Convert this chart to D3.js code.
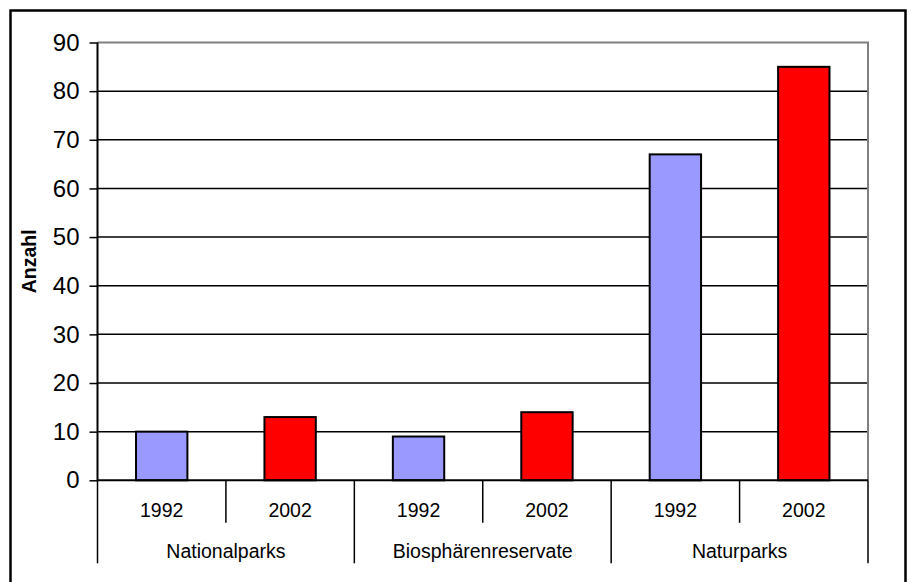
<!DOCTYPE html>
<html>
<head>
<meta charset="utf-8">
<script src="https://cdn.jsdelivr.net/npm/d3@7"></script>
<style>
  body { margin: 0; background: #fff; }
  text { font-family: "Liberation Sans", Arial, sans-serif; fill: #000; }
</style>
</head>
<body>
<svg id="chart"></svg>
<script>
const groups = ["Nationalparks", "Biosphärenreservate", "Naturparks"];
const years = ["1992", "2002"];
const values1992 = [10, 9, 67];
const values2002 = [13, 14, 85];
const yTicks = [0, 10, 20, 30, 40, 50, 60, 70, 80, 90];
const colors = { "1992": "#9999ff", "2002": "#ff0000" };

const width = 911, height = 582;
const margin = { top: 42.5, right: 43, bottom: 101.7, left: 97.5 };

const svg = d3.select("#chart").attr("width", width).attr("height", height);

// outer frame (bottom edge falls just off the canvas)
svg.append("rect")
  .attr("x", 10.5).attr("y", 10.5)
  .attr("width", 895).attr("height", 578)
  .attr("fill", "none").attr("stroke", "#000").attr("stroke-width", 2.5);

const chart = svg.append("g")
  .attr("transform", "translate(" + margin.left + "," + margin.top + ")");

const cw = width - margin.left - margin.right;
const ch = height - margin.top - margin.bottom;

// one row per bar
const rows = [];
groups.forEach((g, i) => {
  rows.push({ group: g, year: years[0], value: values1992[i] });
  rows.push({ group: g, year: years[1], value: values2002[i] });
});
const key = d => d.group + "|" + d.year;

const x = d3.scaleBand()
  .domain(rows.map(key))
  .range([0, cw])
  .paddingInner(0.6)
  .paddingOuter(0.3);

const xCell = d3.scaleBand().domain(rows.map(key)).range([0, cw]);
const xGroup = d3.scaleBand().domain(groups).range([0, cw]);

const y = d3.scaleLinear().domain([0, 90]).range([ch, 0]);

// gridlines
chart.selectAll(".grid")
  .data(yTicks.slice(1, -1))
  .enter().append("line")
  .attr("x1", 0).attr("x2", cw)
  .attr("y1", d => y(d)).attr("y2", d => y(d))
  .attr("stroke", "#000").attr("stroke-width", 1.5);

// plot area top / right edge
chart.append("path")
  .attr("d", "M0," + y(90) + "H" + cw + "V" + ch)
  .attr("fill", "none").attr("stroke", "#808080").attr("stroke-width", 2);

// bars
chart.selectAll(".bar")
  .data(rows)
  .enter().append("rect")
  .attr("x", d => x(key(d)))
  .attr("width", x.bandwidth())
  .attr("y", d => y(d.value))
  .attr("height", d => ch - y(d.value))
  .attr("fill", d => colors[d.year])
  .attr("stroke", "#000").attr("stroke-width", 2);

// y axis
const yAxis = d3.axisLeft(y).tickValues(yTicks).tickSize(8).tickPadding(10);
const yg = chart.append("g").call(yAxis);
yg.select(".domain").remove();
yg.selectAll(".tick line").attr("stroke", "#000").attr("stroke-width", 1.5);
yg.selectAll("text").style("font-size", "24px").attr("fill", "#000");
chart.append("line")
  .attr("x1", 0).attr("x2", 0).attr("y1", y(90)).attr("y2", ch)
  .attr("stroke", "#000").attr("stroke-width", 2);

// x baseline
chart.append("line")
  .attr("x1", 0).attr("x2", cw).attr("y1", ch).attr("y2", ch)
  .attr("stroke", "#000").attr("stroke-width", 2);

// year separators
chart.selectAll(".ysep")
  .data(groups)
  .enter().append("line")
  .attr("x1", d => xGroup(d) + xGroup.bandwidth() / 2)
  .attr("x2", d => xGroup(d) + xGroup.bandwidth() / 2)
  .attr("y1", ch).attr("y2", ch + 42.5)
  .attr("stroke", "#000").attr("stroke-width", 1.5);

// group separators
chart.selectAll(".gsep")
  .data(groups.concat(["end"]))
  .enter().append("line")
  .attr("x1", (d, i) => i < groups.length ? xGroup(d) : cw)
  .attr("x2", (d, i) => i < groups.length ? xGroup(d) : cw)
  .attr("y1", ch).attr("y2", ch + 83)
  .attr("stroke", "#000").attr("stroke-width", 1.5);

// year labels
chart.selectAll(".ylab")
  .data(rows)
  .enter().append("text")
  .attr("x", d => xCell(key(d)) + xCell.bandwidth() / 2)
  .attr("y", ch + 37)
  .attr("text-anchor", "middle")
  .style("font-size", "19.5px")
  .text(d => d.year);

// group labels
chart.selectAll(".glab")
  .data(groups)
  .enter().append("text")
  .attr("x", d => xGroup(d) + xGroup.bandwidth() / 2)
  .attr("y", ch + 77.5)
  .attr("text-anchor", "middle")
  .style("font-size", "19.5px")
  .text(d => d);

// y label
svg.append("text")
  .attr("transform", "translate(36," + (margin.top + ch / 2) + ") rotate(-90)")
  .attr("text-anchor", "middle")
  .style("font-size", "19.5px")
  .style("font-weight", "bold")
  .text("Anzahl");
</script>
</body>
</html>
